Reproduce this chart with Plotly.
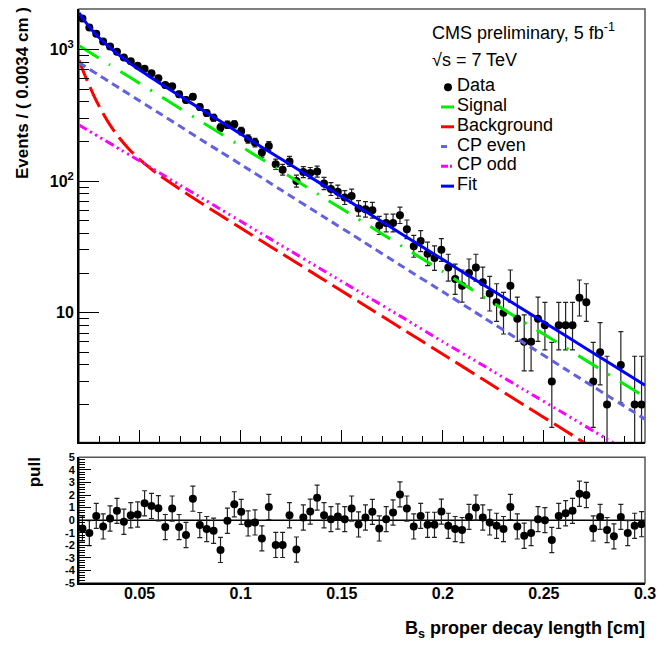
import numpy as np
import plotly.graph_objects as go

# ---------------- data ----------------
X_MIN, X_MAX, N_BINS = 0.02, 0.30, 82

data_counts = [1720, 1470, 1320, 1152, 1052, 963, 868, 816, 752, 715,
               660, 606, 537, 526, 458, 413, 437, 365, 329, 303,
               255, 268, 270, 240, 209, 196, 165, 185, 134, 122,
               141, 100, 117, 115, 118, 96, 87, 83, 75, 77,
               62, 61, 60, 46, 48, 48, 55, 43, 32, 35,
               28, 26, 30, 22, 18, 16, 20, 22, 17, 14,
               12, 10, 16, 9, 6, 6, 9, 8, 3, 8,
               8, 8, 13, 12, 3, 5, 2, None, 4, None,
               2, 2]

pull_values = [-0.66, -1.03, 0.34, -0.5, 0.13, 0.74, -0.13, 0.39, 0.45, 1.34,
               1.13, 0.95, -0.55, 0.92, -0.55, -1.18, 1.71, -0.39, -0.71, -0.84,
               -2.37, -0.05, 1.26, 0.66, -0.26, -0.18, -1.45, 1.05, -1.97, -1.97,
               0.39, -2.34, 0.21, 0.68, 1.79, 0.39, 0.08, 0.29, 0.08, 0.92,
               -0.34, 0.21, 0.66, -0.66, 0.08, 0.61, 2.05, 0.92, -0.5, 0.34,
               -0.37, -0.37, 0.68, -0.45, -0.71, -0.79, 0.26, 1.0, 0.21, -0.18,
               -0.45, -0.71, 1.05, -0.5, -1.24, -1.03, 0.08, 0.0, -1.58, 0.34,
               0.55, 0.74, 2.1, 2.0, -0.66, 0.26, -0.79, -1.29, 0.26, -1.03,
               -0.45, -0.32]

curve_x = [0.02, 0.0225, 0.025, 0.0275, 0.03, 0.0325, 0.035, 0.0375, 0.04,
           0.045, 0.05, 0.055, 0.06, 0.07, 0.08, 0.09, 0.1,
           0.12, 0.14, 0.16, 0.18, 0.2, 0.22, 0.24, 0.26, 0.28, 0.3]
background = [827, 660, 536, 441, 370, 315, 272, 239, 212.5,
              173, 146, 126, 110, 86.5, 68.8, 54.9, 44,
              28.3, 18.2, 11.7, 7.51, 4.83, 3.10, 1.99, 1.28, 0.82, 0.53]
signal = [1070, 1012, 958, 906, 858, 812, 769, 727, 689,
          618, 553, 496, 444, 356, 286, 230, 184,
          119, 76.6, 49.4, 31.8, 20.5, 13.2, 8.5, 5.5, 3.54, 2.28]
cp_even = [795, 751, 711, 672, 636, 601, 569, 538, 508,
           455, 407, 364, 326, 261, 208, 167, 134,
           85.5, 54.8, 35.1, 22.4, 14.4, 9.2, 5.9, 3.77, 2.42, 1.55]
cp_odd = [267, 253, 240, 228, 216, 205, 195, 185, 175,
          158, 142, 128, 115, 93, 75.5, 61.1, 49.5,
          32.5, 21.3, 14.0, 9.2, 6.0, 3.96, 2.6, 1.71, 1.12, 0.73]
fit = [1897, 1672, 1494, 1347, 1228, 1127, 1041, 966, 902,
       791, 699, 622, 554, 443, 355, 285, 228,
       147, 94.8, 61.1, 39.3, 25.3, 16.3, 10.5, 6.78, 4.36, 2.81]

x_tick_vals = [0.05, 0.1, 0.15, 0.2, 0.25, 0.3]
x_tick_text = ["0.05", "0.1", "0.15", "0.2", "0.25", "0.3"]
y_tick_vals = [10, 100, 1000]
y_tick_text = ["10", "10<sup>2</sup>", "10<sup>3</sup>"]
pull_ticks = [-5, -4, -3, -2, -1, 0, 1, 2, 3, 4, 5]

# ---------------- derived ----------------
bw = (X_MAX - X_MIN) / N_BINS
bin_x = [X_MIN + (i + 0.5) * bw for i in range(N_BINS)]
err_up = [None if n is None else float(np.sqrt(n + 0.75) + 1) for n in data_counts]
err_dn = [None if n is None else float(np.sqrt(n - 0.25)) for n in data_counts]
pull_err = [1.0] * len(pull_values)

FONT = "Liberation Sans"
L, R, T, B = 79, 25, 3, 66
W, H = 670, 649
PW, PH = W - L - R, H - T - B
YOFF = 2  # page renders ~2px lower


def px(x):
    return (x - L) / PW


def py(y):
    return (H - B - (y - YOFF)) / PH


MAIN_DOM = [py(443), 1.0]
PULL_DOM = [0.0, py(458)]

fig = go.Figure()

# data
fig.add_trace(go.Scatter(
    x=bin_x, y=data_counts, mode="markers", xaxis="x", yaxis="y",
    marker=dict(color="black", size=8),
    error_y=dict(type="data", symmetric=False, array=err_up, arrayminus=err_dn,
                 color="#222222", thickness=1.2, width=2.5),
    showlegend=False))

# curves
curve_styles = [
    (background, "#ff0000", "22px,7px"),
    (cp_odd, "#ff00ff", "9px,4px,2px,4px,2px,4px,2px,4px"),
    (cp_even, "#6262e0", "8px,5px"),
    (signal, "#00ee00", "23px,12px,2px,12px"),
    (fit, "#0000ff", "solid"),
]
for vals, col, dash in curve_styles:
    fig.add_trace(go.Scatter(
        x=curve_x, y=vals, mode="lines", xaxis="x", yaxis="y",
        line=dict(color=col, width=3, dash=dash, shape="spline", smoothing=0.5),
        showlegend=False, hoverinfo="skip"))

# pull
fig.add_trace(go.Scatter(
    x=bin_x, y=pull_values, mode="markers", xaxis="x2", yaxis="y2",
    marker=dict(color="black", size=8),
    error_y=dict(type="data", array=pull_err, color="#222222", thickness=1.2, width=2.5),
    showlegend=False))

tickfont = dict(family=FONT, size=16, color="black", weight="bold")

fig.update_layout(
    width=W, height=H, margin=dict(l=L, r=R, t=T, b=B),
    paper_bgcolor="white", plot_bgcolor="white",
    font=dict(family=FONT, color="black"),
    xaxis=dict(domain=[0, 1], range=[X_MIN, X_MAX], anchor="y",
               showticklabels=False, ticks="inside", tickvals=x_tick_vals,
               ticklen=12, tickwidth=1, tickcolor="black",
               minor=dict(ticks="inside", dtick=0.01, tick0=0, ticklen=6,
                          tickcolor="black", tickwidth=1),
               showline=True, linecolor="black", linewidth=2,
               showgrid=False, zeroline=False),
    yaxis=dict(domain=MAIN_DOM, type="log", range=[0.013, 3.308], anchor="x",
               tickvals=y_tick_vals, ticktext=y_tick_text, tickfont=tickfont,
               ticks="inside", ticklen=20, tickwidth=1, tickcolor="black",
               minor=dict(ticks="inside", tickmode="array",
                          tickvals=[2, 3, 4, 5, 6, 7, 8, 9, 20, 30, 40, 50, 60, 70, 80, 90,
                                    200, 300, 400, 500, 600, 700, 800, 900],
                          ticklen=10, tickcolor="black", tickwidth=1),
               showline=True, linecolor="black", linewidth=2,
               showgrid=False, zeroline=False),
    xaxis2=dict(domain=[0, 1], range=[X_MIN, X_MAX], anchor="y2", matches="x",
                tickvals=x_tick_vals, ticktext=x_tick_text, tickfont=tickfont,
                ticks="", ticklabelstandoff=-5,
                showline=True, linecolor="black", linewidth=2,
                showgrid=False, zeroline=False),
    yaxis2=dict(domain=PULL_DOM, range=[-5, 5], anchor="x2",
                tickvals=pull_ticks, ticktext=[str(v) for v in pull_ticks],
                tickfont=dict(family=FONT, size=11, color="black", weight="bold"),
                ticks="inside", ticklen=12, tickwidth=1, tickcolor="black",
                minor=dict(ticks="inside", dtick=0.2, tick0=0, ticklen=6,
                           tickcolor="black", tickwidth=1),
                showline=True, linecolor="black", linewidth=2,
                showgrid=False, zeroline=False),
)

shapes = [
    dict(type="rect", xref="paper", yref="paper", x0=0, x1=1, y0=MAIN_DOM[0], y1=MAIN_DOM[1],
         line=dict(color="#555555", width=1.5), layer="below"),
    dict(type="rect", xref="paper", yref="paper", x0=0, x1=1, y0=PULL_DOM[0], y1=PULL_DOM[1],
         line=dict(color="#555555", width=1.5), layer="below"),
    dict(type="line", xref="paper", yref="y2", x0=0, x1=1, y0=0, y1=0,
         line=dict(color="black", width=1.5), layer="below"),
]

# legend (manual, ROOT style)
leg_rows = [
    ("Data", 84, None, None),
    ("Signal", 104, "#00ee00", "solid"),
    ("Background", 124, "#ff0000", "solid"),
    ("CP even", 144, "#6262e0", "6px,8px"),
    ("CP odd", 164, "#ff00ff", "7px,2px,2px,3px"),
    ("Fit", 184, "#0000ff", "solid"),
]
annotations = []
for label, yy, col, dash in leg_rows:
    if col is None:
        shapes.append(dict(type="circle", xref="paper", yref="paper",
                           x0=px(444), x1=px(452), y0=py(yy + 4), y1=py(yy - 4),
                           fillcolor="black", line=dict(color="black", width=0)))
    else:
        shapes.append(dict(type="line", xref="paper", yref="paper",
                           x0=px(441), x1=px(454), y0=py(yy), y1=py(yy),
                           line=dict(color=col, width=3, dash=dash)))
    annotations.append(dict(text=label, xref="paper", yref="paper",
                            x=px(455), y=py(yy - 2), xanchor="left", yanchor="middle",
                            showarrow=False, font=dict(family=FONT, size=18, color="black")))

annotations += [
    dict(text="CMS preliminary, 5 fb<sup>-1</sup>", xref="paper", yref="paper",
         x=px(430), y=py(28), xanchor="left", yanchor="middle", showarrow=False,
         font=dict(family=FONT, size=18, color="black")),
    dict(text="√s = 7 TeV", xref="paper", yref="paper",
         x=px(430), y=py(57), xanchor="left", yanchor="middle", showarrow=False,
         font=dict(family=FONT, size=18, color="black")),
    dict(text="Events / ( 0.0034 cm )", xref="paper", yref="paper",
         x=px(22), y=py(1), xanchor="center", yanchor="top", textangle=-90,
         showarrow=False, font=dict(family=FONT, size=17, color="black", weight="bold")),
    dict(text="pull", xref="paper", yref="paper",
         x=px(34), y=py(456), xanchor="center", yanchor="top", textangle=-90,
         showarrow=False, font=dict(family=FONT, size=17, color="black", weight="bold")),
    dict(text="B<sub>s</sub> proper decay length [cm]", xref="paper", yref="paper",
         x=px(647), y=py(632), xanchor="right", yanchor="middle",
         showarrow=False, font=dict(family=FONT, size=18, color="black", weight="bold")),
]

fig.update_layout(shapes=shapes, annotations=annotations)
fig.write_html("out.html", config={"displayModeBar": False},
               post_script="document.body.style.margin='0px';")
